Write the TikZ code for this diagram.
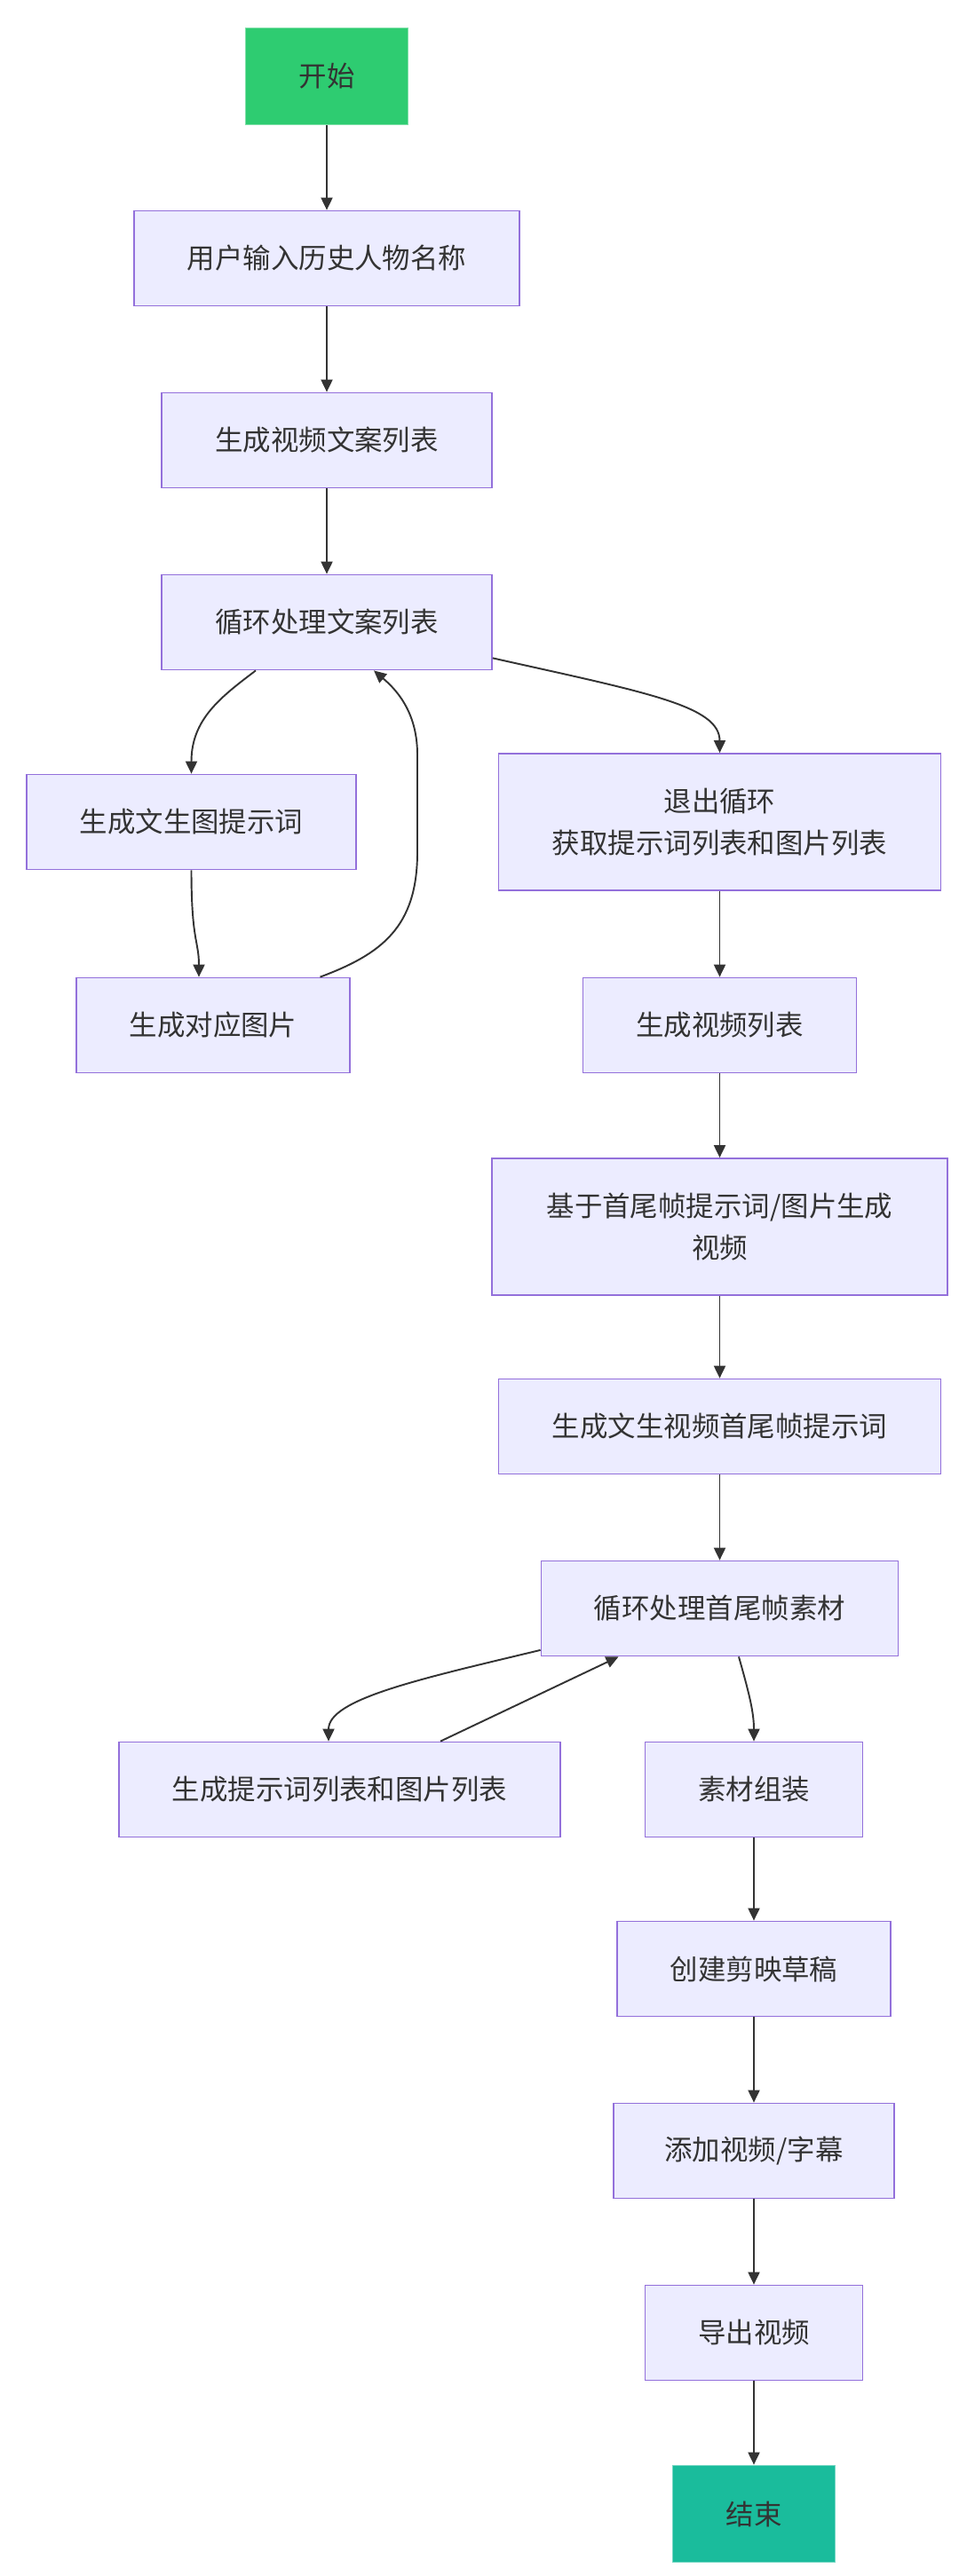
\documentclass[tikz,border=0pt]{standalone}
\usepackage{fontspec}
\setmainfont{Noto Sans CJK SC}
\usepackage{xcolor}
\usetikzlibrary{arrows.meta,positioning,calc}
\definecolor{boxfill}{HTML}{ECECFF}
\definecolor{boxline}{HTML}{9370DB}
\definecolor{startfill}{HTML}{2ECC71}
\definecolor{endfill}{HTML}{1ABC9C}
\definecolor{edgecol}{HTML}{333333}

\begin{document}
\begin{tikzpicture}[scale=1.0]
  \tikzstyle{proc}=[rectangle, draw=boxline, line width=1pt, fill=boxfill, minimum height=2.14cm, text=edgecol, font=\fontsize{17.9}{27}\selectfont, align=center]
  \tikzstyle{term}=[proc, minimum width=3.66cm, minimum height=2.18cm]
  \tikzstyle{flow}=[-{Triangle[length=0.28cm,width=0.26cm]}, line width=1.1pt, draw=edgecol]

  \useasboundingbox (0,0) rectangle (21.6,-58.04);

  \node[term, fill=startfill, draw=startfill!60!white] (start) at (7.36,-1.72) {开始};
  \node[proc, minimum width=8.68cm] (input) at (7.36,-5.82) {用户输入历史人物名称};
  \node[proc, minimum width=7.44cm] (script) at (7.36,-9.92) {生成视频文案列表};
  \node[proc, minimum width=7.44cm] (loopA) at (7.36,-14.02) {循环处理文案列表};
  \node[proc, minimum width=7.42cm] (imgprompt) at (4.31,-18.52) {生成文生图提示词};
  \node[proc, minimum width=9.96cm, minimum height=3.08cm] (exitloop) at (16.21,-18.52) {退出循环\\获取提示词列表和图片列表};
  \node[proc, minimum width=6.16cm] (imggen) at (4.80,-23.10) {生成对应图片};
  \node[proc, minimum width=6.16cm] (vidlist) at (16.21,-23.10) {生成视频列表};
  \node[proc, minimum width=10.26cm, minimum height=3.08cm] (vidgen) at (16.21,-27.64) {基于首尾帧提示词/图片生成\\视频};
  \node[proc, minimum width=9.96cm] (frameprompt) at (16.21,-32.14) {生成文生视频首尾帧提示词};
  \node[proc, minimum width=8.04cm] (loopB) at (16.21,-36.24) {循环处理首尾帧素材};
  \node[proc, minimum width=9.94cm] (listgen) at (7.65,-40.32) {生成提示词列表和图片列表};
  \node[proc, minimum width=4.90cm] (assemble) at (16.98,-40.32) {素材组装};
  \node[proc, minimum width=6.16cm] (draft) at (16.98,-44.36) {创建剪映草稿};
  \node[proc, minimum width=6.32cm] (subs) at (16.98,-48.46) {添加视频/字幕};
  \node[proc, minimum width=4.90cm] (export) at (16.98,-52.56) {导出视频};
  \node[term, fill=endfill, draw=endfill!60!white] (finish) at (16.98,-56.64) {结束};

  \draw[flow] (start.south) -- (input.north);
  \draw[flow] (input.south) -- (script.north);
  \draw[flow] (script.south) -- (loopA.north);
  \draw[flow] ([xshift=-1.6cm]loopA.south) .. controls (4.98,-15.7) and (4.31,-16.2) .. (imgprompt.north);
  \draw[flow] (imgprompt.south) .. controls (4.31,-21.2) and (4.48,-21.2) .. ([xshift=-0.32cm]imggen.north);
  \draw[flow] ([xshift=2.41cm]imggen.north) .. controls (8.58,-21.5) and (9.40,-20.9) .. (9.40,-19.2) -- (9.40,-17.0) .. controls (9.40,-16.0) and (8.88,-15.5) .. ([xshift=1.06cm]loopA.south);
  \draw[flow] ([yshift=0.28cm]loopA.south east) .. controls (14.55,-15.6) and (16.21,-15.9) .. (exitloop.north);
  \draw[flow] (exitloop.south) -- (vidlist.north);
  \draw[flow] (vidlist.south) -- (vidgen.north);
  \draw[flow] (vidgen.south) -- (frameprompt.north);
  \draw[flow] (frameprompt.south) -- (loopB.north);
  \draw[flow] ([yshift=0.15cm]loopB.south west) .. controls (9.45,-37.83) and (7.40,-38.28) .. ([xshift=-0.25cm]listgen.north);
  \draw[flow] ([xshift=2.27cm]listgen.north) -- ([xshift=-2.28cm]loopB.south);
  \draw[flow] ([xshift=0.43cm]loopB.south) .. controls (16.88,-38.18) and (16.98,-38.58) .. (assemble.north);
  \draw[flow] (assemble.south) -- (draft.north);
  \draw[flow] (draft.south) -- (subs.north);
  \draw[flow] (subs.south) -- (export.north);
  \draw[flow] (export.south) -- (finish.north);
\end{tikzpicture}
\end{document}
